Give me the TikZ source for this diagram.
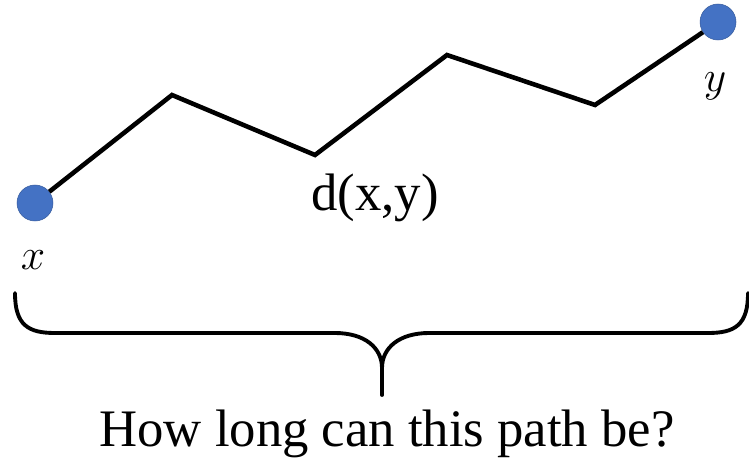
\documentclass[tikz,border=0pt]{standalone}
\usepackage{fontspec}
\setmainfont{Liberation Serif}
\usetikzlibrary{positioning}
\definecolor{dotblue}{HTML}{4472C4}
\tikzset{
  endpoint/.style={circle, fill=dotblue, draw=dotblue!80!black, line width=0.3pt, minimum size=0.72cm, inner sep=0pt},
  hop/.style={line width=2.6pt, line join=miter},
  bracket/.style={line width=2.2pt, line cap=round},
  lbl/.style={font=\fontsize{30}{34}\selectfont, inner sep=0pt},
  mlbl/.style={font=\fontsize{38}{40}\selectfont, inner sep=0pt}
}
\begin{document}
\begin{tikzpicture}[x=0.02cm, y=-0.02cm]
  \useasboundingbox (0,0) rectangle (749,459);
  % end points of the path
  \node[endpoint] (px) at (35,203) {};
  \node[endpoint] (py) at (718,22) {};
  \coordinate (c1) at (172,95);
  \coordinate (c2) at (315,155);
  \coordinate (c3) at (447,55);
  \coordinate (c4) at (595,105);
  \draw[hop] (px) -- (c1) -- (c2) -- (c3) -- (c4) -- (py);
  \node[mlbl] (lx) at (33,260) {$x$};
  \node[mlbl] (ly) at (715,86) {$y$};
  \node[lbl] (dist) at (375,198) {d(x,y)};
  % brace under the whole thing
  \coordinate (bl) at (15,293);
  \coordinate (br) at (748,293);
  \coordinate (tip) at (382,368);
  \coordinate (stem) at (382,395);
  \draw[bracket] (bl) .. controls (15,325) and (28,333) .. (55,333) -- (335,333)
    .. controls (365,333) and (382,348) .. (tip)
    .. controls (382,348) and (399,333) .. (429,333) -- (708,333)
    .. controls (735,333) and (748,325) .. (br);
  \draw[bracket] (tip) -- (stem);
  \node[lbl, anchor=base] (question) at (387,446) {How long can this path be?};
\end{tikzpicture}
\end{document}
